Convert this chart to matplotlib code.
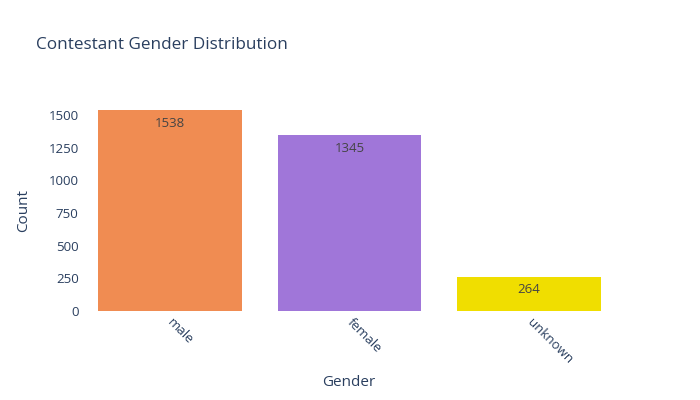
import matplotlib.pyplot as plt

genders = ["male", "female", "unknown"]
counts = [1538, 1345, 264]
colors = ["#F08C52", "#A076D9", "#F0DE00"]

plt.rcParams['font.family'] = ['Open Sans', 'DejaVu Sans']
txt = "#2a3f5f"

fig = plt.figure(figsize=(7, 4), dpi=100)
ax = fig.add_axes([80 / 700, 89 / 400, 539 / 700, 211 / 400])

x = range(len(genders))
bars = ax.bar(x, counts, width=0.8, color=colors)
for b, c in zip(bars, counts):
    ax.annotate(str(c), (b.get_x() + b.get_width() / 2, c), xytext=(0, -13),
                textcoords="offset pixels",
                ha="center", va="center", fontsize=9.5, color="#444444")

ax.set_xlim(-0.5, 2.5)
ax.set_ylim(0, max(counts) * 1.05)
ax.set_yticks([0, 250, 500, 750, 1000, 1250, 1500])
ax.set_xticks(list(x))
ax.set_xticklabels(genders, rotation=-45, ha="left", va="center",
                   rotation_mode="anchor", fontsize=9.5, color=txt)
ax.tick_params(axis="x", length=0, pad=7)
ax.tick_params(axis="y", length=0, pad=1, labelsize=9.5, labelcolor=txt)
for s in ax.spines.values():
    s.set_visible(False)

fig.text(349 / 700, 1 - 382 / 400, "Gender", fontsize=11, color=txt,
         ha="center", va="center")
fig.text(24 / 700, 1 - 211 / 400, "Count", fontsize=11, color=txt,
         ha="center", va="center", rotation=90)
fig.text(36 / 700, 1 - 45 / 400, "Contestant Gender Distribution",
         fontsize=12.3, color=txt, va="center", ha="left")

fig.savefig("out.png", dpi=100)
